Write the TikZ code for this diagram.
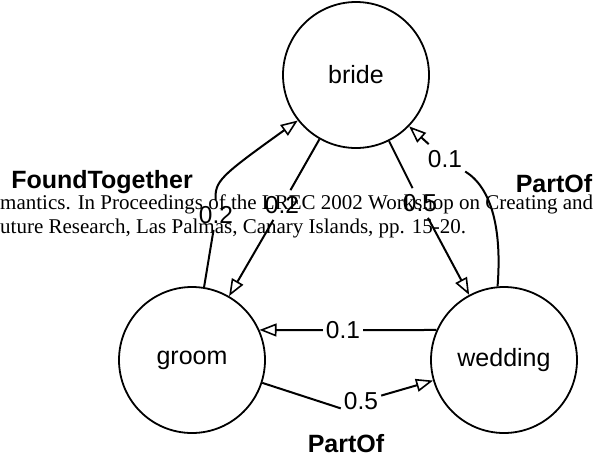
\documentclass[tikz,border=0pt]{standalone}
\usepackage{fontspec}
\setmainfont{Liberation Sans}
\newfontfamily\citefont{Liberation Serif}
\usetikzlibrary{arrows.meta}
\begin{document}
\begin{tikzpicture}[x=1pt,y=-1pt,
  state/.style={circle,draw,line width=1.8pt,minimum size=146pt,inner sep=0pt,font=\fontsize{25}{30}\selectfont},
  wlabel/.style={inner xsep=3pt,inner ysep=6pt,font=\fontsize{24.5}{29}\selectfont},
  rel/.style={font=\bfseries\fontsize{25}{30}\selectfont,inner sep=0pt,anchor=base},
  edge/.style={line width=2pt},
  arr/.style={edge,-{Triangle[open,length=17pt,width=13pt,line width=1.6pt]}},
  cite/.style={font=\citefont\fontsize{21}{24}\selectfont,inner sep=0pt,anchor=base west}]
\useasboundingbox (0,0) rectangle (594,456);
% states
\node[state] (bride) at (356,75) {bride};
\node[state] (groom) at (192,360) {groom};
\node[state] (wedding) at (504,360) {wedding};
% citation fragment
\node[cite] (c1) at (0,209) {\makebox[593pt][s]{mantics. In Proceedings of the LREC 2002 Workshop on Creating and}};
\node[cite] (c2) at (0,233) {uture Research, Las Palmas, Canary Islands, pp. 15-20.};
% weight labels
\node[wlabel] (lFT) at (216,215) {0.2};
\node[wlabel] (lbg) at (282,205) {0.2};
\node[wlabel] (lbw) at (420,203) {0.5};
\node[wlabel] (lwb) at (445,159) {0.1};
\node[wlabel] (lwg) at (343,330.3) {0.1};
\node[wlabel] (lgw) at (361,401) {0.5};
% relation labels
\node[rel] (ft) at (102,188) {FoundTogether};
\node[rel] (po1) at (554,192) {PartOf};
\node[rel] (po2) at (346,452) {PartOf};
% edges
\draw[edge] (groom) -- (lFT);
\draw[arr] (lFT) .. controls (215,181) and (219,177) .. (bride.218);
\draw[edge] (bride) -- (lbg);
\draw[arr] (lbg) -- (groom);
\draw[edge] (bride) -- (lbw);
\draw[arr] (lbw) -- (wedding);
\draw[edge] (wedding.95) .. controls (502,230) and (492,188) .. (lwb);
\draw[arr] (lwb) -- (bride.316);
\draw[edge] (wedding.156) -- (lwg);
\draw[arr] (lwg) -- (groom.24);
\draw[edge] (groom) -- (lgw.200);
\draw[arr] (lgw.15) -- (wedding);
\end{tikzpicture}
\end{document}
